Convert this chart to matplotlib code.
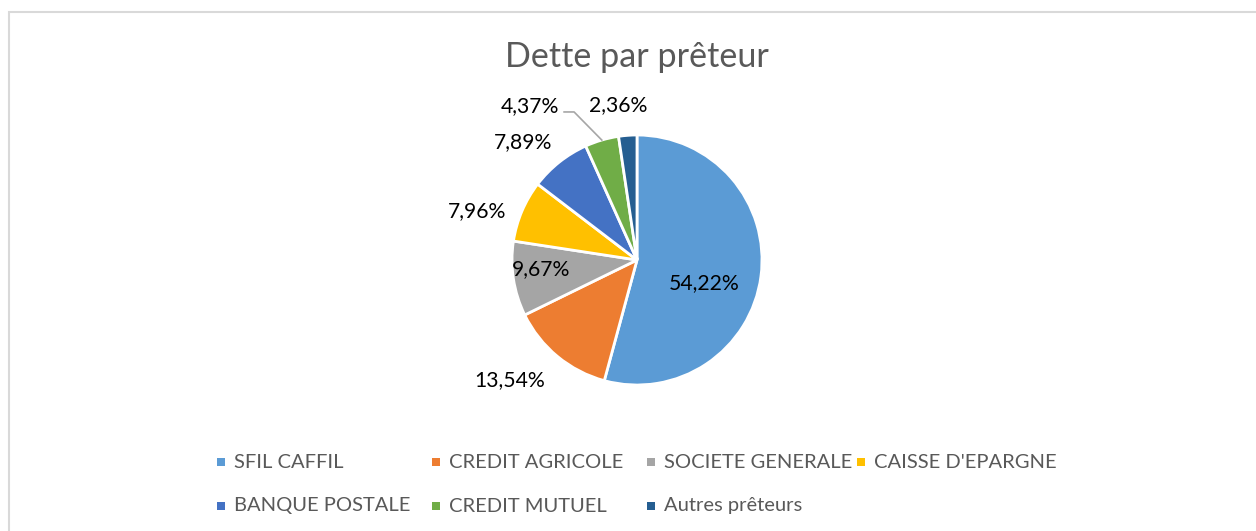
import numpy as np
import matplotlib
matplotlib.use("Agg")
import matplotlib.pyplot as plt
from matplotlib.patches import Rectangle

# data
lenders = ["SFIL CAFFIL", "CREDIT AGRICOLE", "SOCIETE GENERALE", "CAISSE D'EPARGNE",
           "BANQUE POSTALE", "CREDIT MUTUEL", "Autres prêteurs"]
shares = [54.22, 13.54, 9.67, 7.96, 7.89, 4.37, 2.36]
colors = ["#5B9BD5", "#ED7D31", "#A5A5A5", "#FFC000", "#4472C4", "#70AD47", "#255E91"]

# label placement (fraction of radius, angle shift from wedge middle in degrees)
label_dist = [0.57, 1.40, 0.77, 1.34, 1.31, 1.50, 1.25]
label_shift = [-11, -7, -3, 6, 5.6, 18.4, 2.7]

W, H = 1256, 531
plt.rcParams['font.family'] = ['Lato', 'DejaVu Sans']

fig = plt.figure(figsize=(W / 100, H / 100), dpi=100)
ax = fig.add_axes([0, 0, 1, 1])

# chart frame (runs off the right and bottom of the picture)
ax.add_patch(Rectangle((8.5, -20), W, H - 11.5 + 20, fill=False,
                       edgecolor="#D9D9D9", linewidth=1.5))

cx, cy, r = 637, H - 260, 125
wedges, _ = ax.pie(shares, colors=colors, startangle=90, counterclock=False,
                   center=(cx, cy), radius=r, frame=True,
                   wedgeprops=dict(edgecolor="white", linewidth=2))
ax.set_xlim(0, W)
ax.set_ylim(0, H)
ax.set_aspect('equal')
ax.axis('off')

for w, val, d, sh in zip(wedges, shares, label_dist, label_shift):
    mid = (w.theta1 + w.theta2) / 2
    ang = np.deg2rad(mid + sh)
    x = cx + r * d * np.cos(ang)
    y = cy + r * d * np.sin(ang)
    txt = f"{val:.2f}%".replace(".", ",")
    ax.text(x, y, txt, ha="center", va="center", fontsize=15.2, color="#000000")
    if d >= 1.5:
        # leader line for the small slice
        ex = cx + r * np.cos(np.deg2rad(mid))
        ey = cy + r * np.sin(np.deg2rad(mid))
        ax.plot([ex, x + 44, x + 34], [ey, y - 6, y - 6], color="#A6A6A6", lw=1.2)

ax.text(W / 2 + 9, H - 57, "Dette par prêteur", ha="center", va="center",
        fontsize=24.6, color="#595959")

# legend, two rows like the spreadsheet
col_x = [221, 436, 651, 861]
row_y = [H - 462, H - 506]
for i, (name, c) in enumerate(zip(lenders, colors)):
    row, col = divmod(i, 4)
    x, y = col_x[col], row_y[row]
    ax.add_patch(Rectangle((x - 4, y - 4), 8, 8, facecolor=c, edgecolor="none"))
    ax.text(x + 13, y, name, ha="left", va="center", fontsize=14.5, color="#595959")

fig.savefig("out.png", dpi=100)
